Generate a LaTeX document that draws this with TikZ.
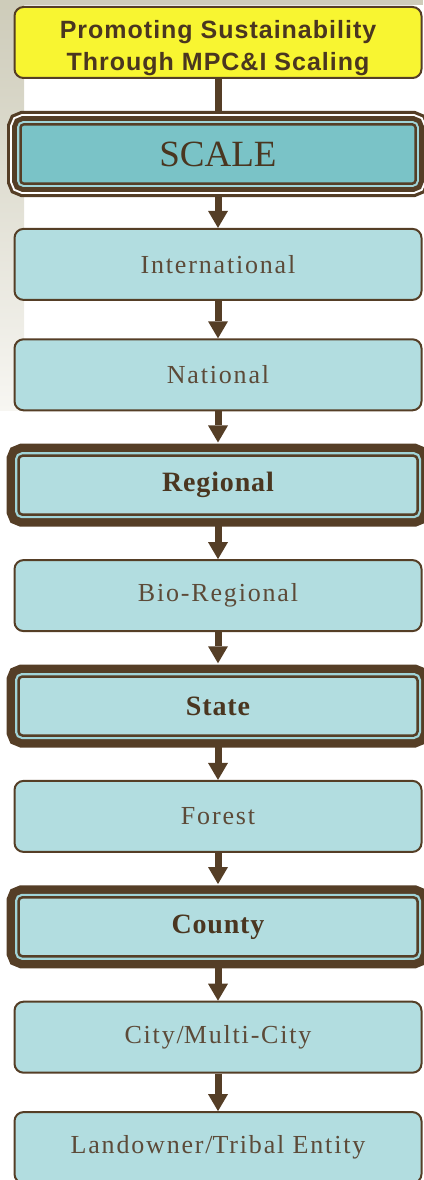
\documentclass[tikz,border=0pt]{standalone}
\usepackage{fontspec}
\setmainfont{Liberation Serif}
\newfontfamily\titlefont[LetterSpace=4]{Liberation Sans}
\newfontfamily\levelfont[LetterSpace=7]{Liberation Serif}
\newfontfamily\keyfont[LetterSpace=3]{Liberation Serif}
\usetikzlibrary{arrows.meta, backgrounds}

\definecolor{barkbrown}{RGB}{85,62,38}
\definecolor{darkbrown}{RGB}{74,54,32}
\definecolor{labelbrown}{RGB}{92,74,56}
\definecolor{signyellow}{RGB}{248,245,49}
\definecolor{scaleteal}{RGB}{122,195,199}
\definecolor{paleteal}{RGB}{178,221,224}
\definecolor{ringteal}{RGB}{160,212,216}
\definecolor{stripgrey}{RGB}{206,204,186}
\definecolor{stripfade}{RGB}{247,246,242}

\begin{document}
\begin{tikzpicture}[x=1pt, y=-1pt,
    titlebox/.style={fill=signyellow, draw=barkbrown, line width=2pt, rounded corners=9pt,
        minimum width=407pt, minimum height=71pt, inner sep=0pt, align=center,
        text=darkbrown, font=\titlefont\bfseries\fontsize{25}{32}\selectfont},
    scalebox/.style={fill=scaleteal, draw=barkbrown, line width=2.5pt, rounded corners=3pt,
        minimum width=395pt, minimum height=59pt, inner sep=0pt,
        text=darkbrown, font=\fontsize{37}{40}\selectfont,
        preaction={draw=barkbrown, line width=27pt},
        preaction={draw=white, line width=20.6pt},
        preaction={draw=barkbrown, line width=16.6pt},
        preaction={draw=ringteal, line width=6.6pt}},
    levelbox/.style={fill=paleteal, draw=barkbrown, line width=2pt, rounded corners=9pt,
        minimum width=407pt, minimum height=71pt, inner sep=0pt,
        text=labelbrown, font=\levelfont\fontsize{26}{30}\selectfont},
    keybox/.style={fill=paleteal, draw=barkbrown, line width=2.5pt, rounded corners=4pt,
        minimum width=399pt, minimum height=59pt, inner sep=0pt,
        text=darkbrown, font=\keyfont\bfseries\fontsize{28}{30}\selectfont,
        preaction={draw=barkbrown, line width=24pt},
        preaction={draw=ringteal, line width=7pt}},
    shaft/.style={barkbrown, line width=7pt},
    flow/.style={shaft, -{Triangle[width=20pt, length=17pt, line width=0pt 0]}}
]
    \useasboundingbox (0,0) rectangle (423,1180);

    % heading and the scale box
    \node[titlebox] (title) at (218,42.5) {\rule{0pt}{29pt}Promoting Sustainability\\Through MPC\&I Scaling};
    \node[scalebox] (scale) at (218,154) {SCALE};

    % the levels, top to bottom
    \foreach \lab/\kind [count=\i] in {International/levelbox, National/levelbox,
        Regional/keybox, Bio-Regional/levelbox, State/keybox, Forest/levelbox,
        County/keybox, City\slash Multi-City/levelbox, Landowner\slash Tribal Entity/levelbox}
        \node[\kind] (l\i) at (218,{154+110.4*\i}) {\lab};

    \begin{scope}[on background layer]
        \fill[stripgrey] (0,0) rectangle (423,5);
        \shade[top color=stripgrey, bottom color=stripfade] (0,5) rectangle (24,410);

        \draw[shaft] (title.south) -- (scale.north);
        \foreach \from/\to/\gap in {scale/l1/0pt, l1/l2/0pt, l2/l3/12pt, l3/l4/0pt,
            l4/l5/12pt, l5/l6/0pt, l6/l7/12pt, l7/l8/0pt, l8/l9/0pt}
            \draw[flow, shorten >=\gap] (\from.south) -- (\to.north);
    \end{scope}
\end{tikzpicture}
\end{document}
